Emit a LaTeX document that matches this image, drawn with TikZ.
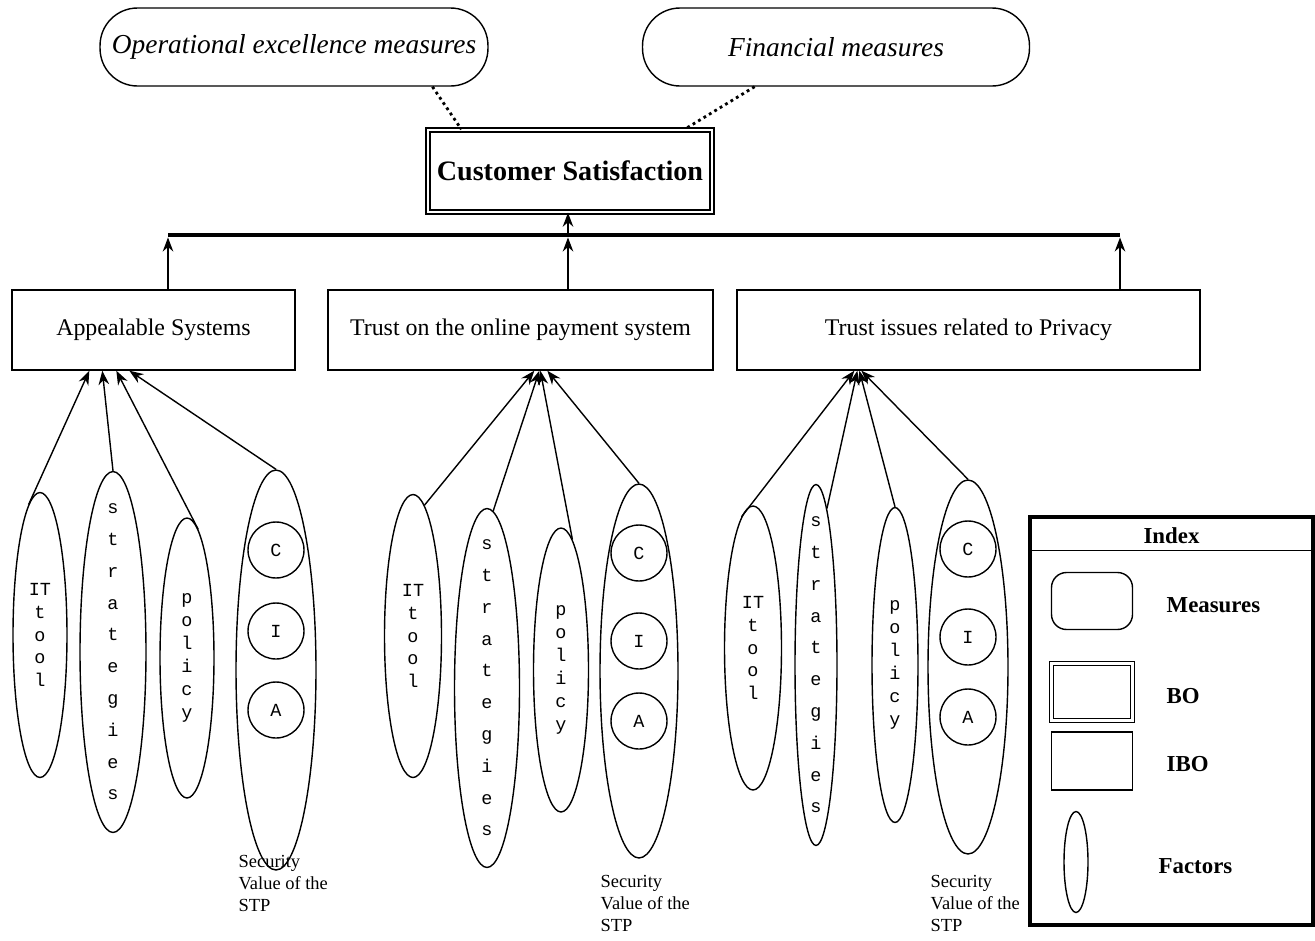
\documentclass[tikz,border=0pt]{standalone}
\usepackage{fontspec}
\setmainfont{Liberation Serif}
\setmonofont{Liberation Mono}
\usetikzlibrary{shapes.geometric, calc, arrows.meta}
\tikzset{>={Stealth[length=8pt, width=6pt]}, % filled arrow heads
measure/.style={draw, rounded corners=0.75cm, font=\fontsize{15.6}{19}\selectfont\itshape}, % the two measures on top
bo/.style={draw, double, double distance=1.4pt, font=\fontsize{16}{19}\selectfont\bfseries}, % business objective
ibo/.style={draw, minimum height=1.6cm, font=\fontsize{13.6}{16}\selectfont}, % intermediate objectives
factor/.style={draw, ellipse, inner sep=0pt}, % the long ellipses
letters/.style={align=center, inner sep=0pt, font=\ttfamily\fontsize{10.5}{13}\selectfont}, % one letter a line
sparse/.style={font=\ttfamily\fontsize{10.5}{18.1}\selectfont}, % wider spacing for strategies
cia/.style={draw, circle, minimum size=1.12cm, inner sep=0pt, font=\ttfamily\fontsize{10.5}{12}\selectfont},
caption/.style={anchor=north west, align=left, inner sep=0pt, font=\fontsize{10.5}{12.5}\selectfont},
legend/.style={anchor=west, inner sep=0pt, font=\fontsize{13}{15}\selectfont\bfseries},
dots/.style={dotted, line width=1.6pt}, % thick dotted link
}

\begin{document}
\begin{tikzpicture}[x=0.02cm, y=-0.02cm, line width=0.8pt]
    \useasboundingbox (0,0) rectangle (1315,940);
    % measures and business objective
    \node[measure, minimum width=7.76cm, minimum height=1.56cm] (op) at (294,47) {Operational excellence measures};
    \node[measure, minimum width=7.74cm, minimum height=1.56cm] (fin) at (836,47) {Financial measures};
    \node[bo, minimum width=5.68cm, minimum height=1.64cm] (cs) at (570,171) {Customer Satisfaction};
    \draw[dots] (op.-16) -- (cs.159);
    \draw[dots] (fin.206) -- (cs.20);

    % the bar
    \coordinate (barl) at (168,235);
    \coordinate (barm) at (568,235);
    \coordinate (barr) at (1120,235);
    \draw[line width=2.8pt] (barl) -- (barr);
    \draw[->] (barm) -- (cs.south -| barm);

    \node[ibo, minimum width=5.66cm] (ibo1) at (153.5,330) {Appealable Systems};
    \node[ibo, minimum width=7.7cm] (ibo2) at (520.5,330) {Trust on the online payment system};
    \node[ibo, minimum width=9.26cm] (ibo3) at (968.5,330) {Trust issues related to Privacy};
    \draw[->, shorten >=1.4pt] (ibo1.north -| barl) -- (barl);
    \draw[->, shorten >=1.4pt] (ibo2.north -| barm) -- (barm);
    \draw[->, shorten >=1.4pt] (ibo3.north -| barr) -- (barr);

    % factors of Appealable Systems
    \node[factor, minimum width=1.08cm, minimum height=5.7cm] (f11) at (40,635) {};
    \node[letters] (t11) at (f11) {IT\\t\\o\\o\\l};
    \node[factor, minimum width=1.32cm, minimum height=7.22cm] (f12) at (113,652) {};
    \node[letters, sparse] (t12) at (f12) {s\\t\\r\\a\\t\\e\\g\\i\\e\\s};
    \node[factor, minimum width=1.08cm, minimum height=5.6cm] (f13) at (187,658) {};
    \node[letters] (t13) at (f13) {p\\o\\l\\i\\c\\y};
    \node[factor, minimum width=1.6cm, minimum height=8cm] (f14) at (276,670) {};
    \node[cia] (c1) at (276,550) {C};
    \node[cia] (i1) at (276,631) {I};
    \node[cia] (a1) at (276,710) {A};
    \node[caption] (s1) at (238,855) {Security\\Value of the\\STP};
    \draw[->] (f11.95) -- ($(ibo1.south west)+(78,0)$);
    \draw[->] (f12.north) -- ($(ibo1.south west)+(91,0)$);
    \draw[->] (f13.85) -- ($(ibo1.south west)+(105,0)$);
    \draw[->] (f14.north) -- ($(ibo1.south west)+(118,0)$);

    % factors of the payment system
    \node[factor, minimum width=1.14cm, minimum height=5.66cm] (f21) at (413,636) {};
    \node[letters] (t21) at (f21) {IT\\t\\o\\o\\l};
    \node[factor, minimum width=1.3cm, minimum height=7.18cm] (f22) at (487,688) {};
    \node[letters, sparse] (t22) at (f22) {s\\t\\r\\a\\t\\e\\g\\i\\e\\s};
    \node[factor, minimum width=1.1cm, minimum height=5.68cm] (f23) at (561,670) {};
    \node[letters] (t23) at (f23) {p\\o\\l\\i\\c\\y};
    \node[factor, minimum width=1.56cm, minimum height=7.48cm] (f24) at (639,671) {};
    \node[cia] (c2) at (639,553) {C};
    \node[cia] (i2) at (639,641) {I};
    \node[cia] (a2) at (639,721) {A};
    \node[caption] (s2) at (600,875) {Security\\Value of the\\STP};
    \draw[->] (f21.85) -- ($(ibo2.south west)+(207,0)$);
    \draw[->] (f22.88) -- ($(ibo2.south west)+(212,0)$);
    \draw[->] (f23.85) -- ($(ibo2.south west)+(213,0)$);
    \draw[->] (f24.north) -- ($(ibo2.south west)+(220,0)$);

    % factors of privacy
    \node[factor, minimum width=1.14cm, minimum height=5.68cm] (f31) at (753,648) {};
    \node[letters] (t31) at (f31) {IT\\t\\o\\o\\l};
    \node[factor, minimum width=0.84cm, minimum height=7.22cm] (f32) at (816,665) {};
    \node[letters, sparse] (t32) at (f32) {s\\t\\r\\a\\t\\e\\g\\i\\e\\s};
    \node[factor, minimum width=0.92cm, minimum height=6.3cm] (f33) at (895,665) {};
    \node[letters] (t33) at (f33) {p\\o\\l\\i\\c\\y};
    \node[factor, minimum width=1.6cm, minimum height=7.48cm] (f34) at (968,667) {};
    \node[cia] (c3) at (968,549) {C};
    \node[cia] (i3) at (968,637) {I};
    \node[cia] (a3) at (968,717) {A};
    \node[caption] (s3) at (930,875) {Security\\Value of the\\STP};
    \draw[->] (f31.95) -- ($(ibo3.south west)+(118,0)$);
    \draw[->] (f32.86) -- ($(ibo3.south west)+(121,0)$);
    \draw[->] (f33.north) -- ($(ibo3.south west)+(123,0)$);
    \draw[->] (f34.north) -- ($(ibo3.south west)+(125,0)$);

    % index
    \node[draw, line width=2pt, minimum width=5.66cm, minimum height=8.16cm] (index) at (1171.5,721) {};
    \draw ($(index.north west)+(0,35)$) -- ($(index.north east)+(0,35)$);
    \node[font=\fontsize{13}{15}\selectfont\bfseries] (indext) at (1171.5,536) {Index};
    \node[draw, rounded corners=0.3cm, minimum width=1.62cm, minimum height=1.14cm] (lm) at (1092,601) {};
    \node[legend] (lmt) at (1166,605) {Measures};
    \node[bo, minimum width=1.62cm, minimum height=1.14cm] (lbo) at (1092,692) {};
    \node[legend] (lbot) at (1166,696) {BO};
    \node[draw, minimum width=1.62cm, minimum height=1.16cm] (libo) at (1092,761) {};
    \node[legend] (libot) at (1166,764) {IBO};
    \node[factor, minimum width=0.48cm, minimum height=2.02cm] (lf) at (1076,862) {};
    \node[legend] (lft) at (1158,866) {Factors};
\end{tikzpicture}
\end{document}
